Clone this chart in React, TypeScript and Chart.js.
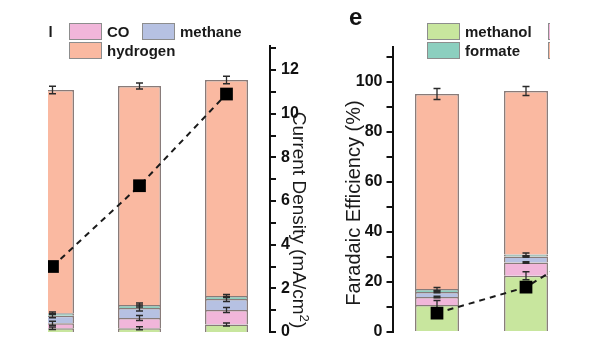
import React, { useEffect, useRef } from 'react';
import { Chart, registerables } from 'chart.js';

Chart.register(...registerables);

const FONT = '"Liberation Sans", Arial, Helvetica, sans-serif';

// ---------- data ----------
const seriesNames = ['methanol', 'CO', 'methane', 'formate', 'hydrogen'];

const categoriesLeft = ['1', '2', '3'];
const methanolLeft = [1.5, 1.5, 3.0];
const coLeft = [2.0, 4.1, 5.8];
const methaneLeft = [3.0, 4.0, 4.4];
const formateLeft = [1.0, 1.2, 1.2];
const hydrogenLeft = [89.3, 87.6, 86.4];
const errMethanolLeft = [0.5, 0.6, 0.6];
const errCoLeft = [0.8, 1.0, 1.0];
const errMethaneLeft = [0.8, 1.2, 1.0];
const errFormateLeft = [0.5, 0.8, 0.6];
const errHydrogenLeft = [1.5, 1.2, 1.5];
const currentLeft = [3.0, 6.7, 10.9];

const categoriesRight = ['1', '2', '3'];
const methanolRight = [10.8, 22.5, null];
const coRight = [3.2, 5.3, null];
const methaneRight = [2.0, 2.4, null];
const formateRight = [1.2, 0.8, null];
const hydrogenRight = [78.0, 65.4, null];
const errMethanolRight = [1.8, 1.6, null];
const errCoRight = [0.3, 0.3, null];
const errMethaneRight = [0.3, 0.3, null];
const errFormateRight = [0.6, 0.6, null];
const errHydrogenRight = [2.2, 1.8, null];
const currentRight = [0.87, 2.06, 4.6];

// ---------- styles ----------
const seriesColors = ['#c8e69e', '#f1b6da', '#b6c1e2', '#8ccfbf', '#fab9a1'];
const BAR_BORDER = 'rgba(115,100,98,0.85)';

const errorBars = {
  id: 'errorBars',
  beforeDatasetDraw(chart: any, args: any) {
    if (args.meta.type !== 'line') return;
    const ctx = chart.ctx;
    const ys = chart.scales.y;
    ctx.save();
    ctx.strokeStyle = '#2a2a2a';
    ctx.lineWidth = 1.3;
    chart.data.datasets.forEach((ds: any, di: number) => {
      if (!ds.errors) return;
      const meta = chart.getDatasetMeta(di);
      meta.data.forEach((el: any, i: number) => {
        const e = ds.errors[i];
        if (e == null || ds.data[i] == null) return;
        const d = ys.getPixelForValue(0) - ys.getPixelForValue(e);
        const x = el.x;
        const y = el.y;
        ctx.beginPath();
        ctx.moveTo(x, y - d);
        ctx.lineTo(x, y + d);
        ctx.moveTo(x - 3.5, y - d);
        ctx.lineTo(x + 3.5, y - d);
        ctx.moveTo(x - 3.5, y + d);
        ctx.lineTo(x + 3.5, y + d);
        ctx.stroke();
      });
    });
    ctx.restore();
  },
};

function barDatasets(series: any[][], errors: any[][]) {
  return seriesNames.map((name, k) => ({
    type: 'bar',
    label: name,
    data: series[k],
    errors: errors[k],
    yAxisID: 'y',
    backgroundColor: seriesColors[k],
    borderColor: BAR_BORDER,
    borderWidth: 1.5,
    categoryPercentage: 1,
    barPercentage: 0.494,
    order: 1,
    stack: 's',
  }));
}

function lineDataset(data: number[]) {
  return {
    type: 'line',
    label: 'current density',
    data,
    yAxisID: 'y2',
    borderColor: '#1a1a1a',
    borderWidth: 2,
    borderDash: [6, 5],
    pointStyle: 'rect',
    pointRadius: 9,
    pointHoverRadius: 9,
    pointBackgroundColor: '#000',
    pointBorderColor: '#000',
    pointBorderWidth: 0,
    fill: false,
    tension: 0,
    order: 0,
  };
}

const tickFont = { family: FONT, size: 16, weight: 'bold' as const };

export default function App() {
  const leftRef = useRef<HTMLCanvasElement>(null);
  const rightRef = useRef<HTMLCanvasElement>(null);

  useEffect(() => {
    const left = new Chart(leftRef.current as HTMLCanvasElement, {
      type: 'bar',
      data: {
        labels: categoriesLeft,
        datasets: [
          ...barDatasets(
            [methanolLeft, coLeft, methaneLeft, formateLeft, hydrogenLeft],
            [errMethanolLeft, errCoLeft, errMethaneLeft, errFormateLeft, errHydrogenLeft]
          ),
          lineDataset(currentLeft),
        ] as any,
      },
      options: {
        responsive: false,
        animation: false,
        devicePixelRatio: 1,
        layout: { padding: { left: 2.5, right: 0, top: 46, bottom: 28 } },
        plugins: { legend: { display: false }, tooltip: { enabled: false } },
        scales: {
          x: { display: false, stacked: true, offset: true },
          y: { display: false, stacked: true, min: 0, max: 114.4 },
          y2: {
            position: 'right',
            min: 0,
            max: 13.1,
            afterFit: (s: any) => {
              s.width = 60;
            },
            border: { display: true, color: '#111', width: 2 },
            grid: { drawOnChartArea: false, drawTicks: true, tickLength: 6, color: '#111', lineWidth: 2 },
            ticks: {
              stepSize: 1,
              includeBounds: false,
              autoSkip: false,
              padding: 5,
              color: '#111',
              font: tickFont,
              callback: (v: any) => (Number(v) % 2 === 0 ? String(v) : ''),
            },
          },
        },
      } as any,
      plugins: [errorBars],
    });

    const right = new Chart(rightRef.current as HTMLCanvasElement, {
      type: 'bar',
      data: {
        labels: categoriesRight,
        datasets: [
          ...barDatasets(
            [methanolRight, coRight, methaneRight, formateRight, hydrogenRight],
            [errMethanolRight, errCoRight, errMethaneRight, errFormateRight, errHydrogenRight]
          ),
          lineDataset(currentRight),
        ] as any,
      },
      options: {
        responsive: false,
        animation: false,
        devicePixelRatio: 1,
        layout: { padding: { left: 0, right: 40.5, top: 47, bottom: 28 } },
        plugins: { legend: { display: false }, tooltip: { enabled: false } },
        scales: {
          x: { display: false, stacked: true, offset: true },
          y: {
            position: 'left',
            stacked: true,
            min: 0,
            max: 114,
            afterFit: (s: any) => {
              s.width = 92.5;
            },
            border: { display: true, color: '#111', width: 2 },
            grid: { drawOnChartArea: false, drawTicks: true, tickLength: 6, color: '#111', lineWidth: 2 },
            ticks: {
              stepSize: 10,
              includeBounds: false,
              autoSkip: false,
              padding: 4,
              color: '#111',
              font: tickFont,
              callback: (v: any) => (Number(v) % 20 === 0 ? String(v) : ''),
            },
          },
          y2: { display: false, position: 'right', min: 0, max: 13.1 },
        },
      } as any,
      plugins: [errorBars],
    });

    return () => {
      left.destroy();
      right.destroy();
    };
  }, []);

  const legendItem = (k: number, x: number, y: number) => (
    <div key={seriesNames[k] + x} style={{ position: 'absolute', left: x, top: y, height: 17, whiteSpace: 'nowrap' }}>
      <div
        style={{
          position: 'absolute',
          left: 0,
          top: 0,
          width: 33,
          height: 17,
          boxSizing: 'border-box',
          background: seriesColors[k],
          border: '1.5px solid #8d8d8d',
        }}
      />
      <div
        style={{
          position: 'absolute',
          left: 38,
          top: 0,
          lineHeight: '17px',
          fontSize: 15,
          fontWeight: 'bold',
          color: '#1a1a1a',
          fontFamily: FONT,
        }}
      >
        {seriesNames[k]}
      </div>
    </div>
  );

  // legend layout: row1 methanol, CO, methane ; row2 formate, hydrogen
  const legendAt = (x0: number) => [
    legendItem(0, x0, 23),
    legendItem(1, x0 + 121, 23),
    legendItem(2, x0 + 194, 23),
    legendItem(3, x0, 42),
    legendItem(4, x0 + 121, 42),
  ];

  return (
    <div
      style={{
        position: 'fixed',
        left: 0,
        top: 0,
        width: 600,
        height: 338,
        overflow: 'hidden',
        background: '#fff',
        fontFamily: FONT,
      }}
    >
      <div style={{ position: 'absolute', left: 48, top: 0, width: 277, height: 338, overflow: 'hidden' }}>
        <canvas
          ref={leftRef}
          width={330}
          height={360}
          style={{ position: 'absolute', left: -48, top: 0, width: 330, height: 360 }}
        />
        {legendAt(-52 - 48)}
      </div>
      <div style={{ position: 'absolute', left: 325, top: 0, width: 225, height: 338, overflow: 'hidden' }}>
        <canvas
          ref={rightRef}
          width={400}
          height={360}
          style={{ position: 'absolute', left: -25, top: 0, width: 400, height: 360 }}
        />
        {legendAt(427 - 325)}
      </div>
      <div
        style={{
          position: 'absolute',
          left: 349,
          top: 5,
          fontSize: 24,
          lineHeight: '24px',
          fontWeight: 'bold',
          color: '#111',
        }}
      >
        e
      </div>
      <div
        style={{
          position: 'absolute',
          left: 299,
          top: 220,
          transform: 'translate(-50%, -50%) rotate(90deg)',
          whiteSpace: 'nowrap',
          fontSize: 19,
          lineHeight: '20px',
          color: '#1a1a1a',
        }}
      >
        Current Density (mA/cm<sup style={{ fontSize: '0.7em', lineHeight: 0 }}>2</sup>)
      </div>
      <div
        style={{
          position: 'absolute',
          left: 353,
          top: 203,
          transform: 'translate(-50%, -50%) rotate(-90deg)',
          whiteSpace: 'nowrap',
          fontSize: 20,
          lineHeight: '20px',
          color: '#1a1a1a',
        }}
      >
        Faradaic Efficiency (%)
      </div>
    </div>
  );
}
